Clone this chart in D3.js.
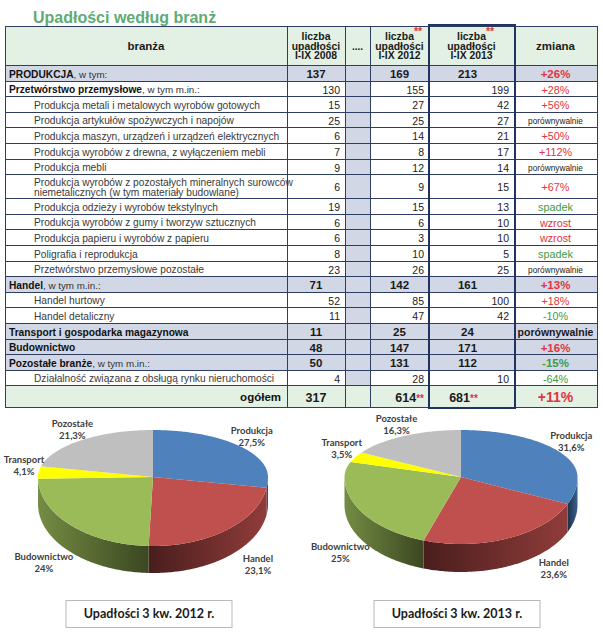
<!DOCTYPE html>
<html><head><meta charset="utf-8">
<script src="https://cdn.jsdelivr.net/npm/d3@7"></script>
<style>body{margin:0;background:#fff}svg{display:block}</style>
</head><body><svg id="c" width="603" height="640"></svg>
<script>
// ---------------- DATA ----------------
const title = "Upadłości według branż";
const headers = ["branża", "liczba\nupadłości\nI-IX 2008", "....", "liczba**\nupadłości\nI-IX 2012", "liczba**\nupadłości\nI-IX 2013", "zmiana"];
const categories = [
  "PRODUKCJA, w tym:",
  "Przetwórstwo przemysłowe, w tym m.in.:",
  "Produkcja metali i metalowych wyrobów gotowych",
  "Produkcja artykułów spożywczych i napojów",
  "Produkcja maszyn, urządzeń i urządzeń elektrycznych",
  "Produkcja wyrobów z drewna, z wyłączeniem mebli",
  "Produkcja mebli",
  "Produkcja wyrobów z pozostałych mineralnych surowców\nniemetalicznych (w tym materiały budowlane)",
  "Produkcja odzieży i wyrobów tekstylnych",
  "Produkcja wyrobów z gumy i tworzyw sztucznych",
  "Produkcja papieru i wyrobów z papieru",
  "Poligrafia i reprodukcja",
  "Przetwórstwo przemysłowe pozostałe",
  "Handel, w tym m.in.:",
  "Handel hurtowy",
  "Handel detaliczny",
  "Transport i gospodarka magazynowa",
  "Budownictwo",
  "Pozostałe branże, w tym m.in.:",
  "Działalność związana z obsługą rynku nieruchomości"
];
// 0 = main sector, 1 = sub-sector, 2 = item
const levels = [0,1,2,2,2,2,2,2,2,2,2,2,2,0,2,2,0,0,0,2];
const v2008 = [137,130,15,25,6,7,9,6,19,6,6,8,23,71,52,11,11,48,50,4];
const v2012 = [169,155,27,25,14,8,12,9,15,6,3,10,26,142,85,47,25,147,131,28];
const v2013 = [213,199,42,27,21,17,14,15,13,10,10,5,25,161,100,42,24,171,112,10];
const change = ["+26%","+28%","+56%","porównywalnie","+50%","+112%","porównywalnie","+67%","spadek","wzrost","wzrost","spadek","porównywalnie","+13%","+18%","-10%","porównywalnie","+16%","-15%","-64%"];
const totalLabel = "ogółem";
const totals = ["317", "614**", "681**"];
const totalChange = "+11%";

const pieCategories = ["Produkcja","Handel","Budownictwo","Transport","Pozostałe"];
const pie2012 = [27.5, 23.1, 24, 4.1, 21.3];
const pie2013 = [31.6, 23.6, 25, 3.5, 16.3];
const pieTitles = ["Upadłości 3 kw. 2012 r.", "Upadłości 3 kw. 2013 r."];

// ---------------- STYLE / LAYOUT ----------------
const svg = d3.select("#c");
const ARIAL = "'Liberation Sans', Arial, sans-serif";
const LINE = "#2f3d63";
const GREY_ROW = "#d2d7e5";
const GREEN_BG = "#e3f1e5";
const RED = "#e2343f", GREEN = "#3f9a45";
const colX = [5, 287, 345, 370, 429, 514, 597];

svg.append("text").attr("x", 33).attr("y", 23).text(title)
  .attr("font-family", ARIAL).attr("font-weight", "bold").attr("font-size", 16)
  .attr("fill", "#60ab74");

const tableTop = 26, headerBottom = 65;
let yy = headerBottom;
const rowsY = categories.map(c => {
  const h = c.includes("\n") ? 24 : 15.6;
  const r = [Math.round(yy), Math.round(yy + h)];
  yy += h; return r;
});
const totalY = [Math.round(yy), Math.round(yy + 22)];
const tableBottom = totalY[1];

const tbl = svg.append("g");
tbl.append("rect").attr("x", colX[0]).attr("y", tableTop).attr("width", colX[6]-colX[0]).attr("height", headerBottom - tableTop).attr("fill", GREEN_BG);
categories.forEach((c, i) => {
  const [y0, y1] = rowsY[i];
  if (levels[i] === 0) tbl.append("rect").attr("x", colX[0]).attr("y", y0).attr("width", colX[6]-colX[0]).attr("height", y1-y0).attr("fill", GREY_ROW);
  tbl.append("rect").attr("x", colX[2]).attr("y", y0).attr("width", colX[3]-colX[2]).attr("height", y1-y0).attr("fill", GREY_ROW);
});
tbl.append("rect").attr("x", colX[0]).attr("y", totalY[0]).attr("width", colX[6]-colX[0]).attr("height", totalY[1]-totalY[0]).attr("fill", GREEN_BG);

const hLines = [tableTop, headerBottom].concat(rowsY.map(r => r[1])).concat([tableBottom]);
hLines.forEach(y => tbl.append("line").attr("x1", colX[0]).attr("x2", colX[6]).attr("y1", y + 0.5).attr("y2", y + 0.5).attr("stroke", LINE).attr("stroke-width", 1));
colX.forEach(x => tbl.append("line").attr("x1", x + 0.5).attr("x2", x + 0.5).attr("y1", tableTop).attr("y2", tableBottom + 1).attr("stroke", LINE).attr("stroke-width", 1));
tbl.append("rect").attr("x", colX[4]).attr("y", tableTop - 1).attr("width", colX[5]-colX[4] + 1).attr("height", tableBottom - tableTop + 2)
  .attr("fill", "none").attr("stroke", "#1f3461").attr("stroke-width", 2);

function starText(sel, str) {
  const parts = str.split("**");
  parts.forEach((p, i) => {
    if (p) sel.append("tspan").text(p);
    if (i < parts.length - 1) sel.append("tspan").text("**").attr("fill", RED).attr("font-size", 10);
  });
}

// header
headers.forEach((h, j) => {
  const cx = (colX[j] + colX[j+1]) / 2;
  const lines = h.split("\n");
  if (lines.length === 1) {
    tbl.append("text").attr("x", cx).attr("y", (tableTop + headerBottom)/2 + 4).attr("text-anchor", "middle")
      .attr("font-family", ARIAL).attr("font-weight", "bold").attr("font-size", j === 2 ? 10 : 11.5).attr("fill", "#1a1a1a").text(h);
  } else {
    lines.forEach((ln, k) => {
      const t = tbl.append("text").attr("x", cx).attr("y", 40 + k * 9.6).attr("text-anchor", "middle")
        .attr("font-family", ARIAL).attr("font-weight", "bold").attr("font-size", 10.4).attr("fill", "#1a1a1a");
      if (ln.includes("**")) {
        const base = ln.replace("**", "");
        t.text(base);
        const w = t.node().getComputedTextLength();
        tbl.append("text").attr("x", cx + w/2).attr("y", 35 + k * 9.6).attr("font-family", ARIAL).attr("font-weight", "bold")
          .attr("font-size", 10.5).attr("fill", RED).text("**");
      } else t.text(ln);
    });
  }
});

function changeColor(s) {
  if (s.startsWith("+") || s === "wzrost") return RED;
  if (s.startsWith("-") || s === "spadek") return GREEN;
  return "#1a1a1a";
}

categories.forEach((c, i) => {
  const [y0, y1] = rowsY[i];
  const mid = (y0 + y1) / 2 + 1;
  const lv = levels[i];
  const lines = c.split("\n");
  if (lv <= 1) {
    const k = c.indexOf(",");
    const t = tbl.append("text").attr("x", 9).attr("y", mid + 3.5).attr("font-family", ARIAL).attr("font-size", 10.2).attr("fill", "#111");
    t.append("tspan").attr("font-weight", "bold").text(k >= 0 ? c.slice(0, k) : c);
    if (k >= 0) t.append("tspan").attr("fill", "#333").attr("font-size", 9.8).text(c.slice(k));
  } else {
    lines.forEach((ln, k) => {
      const off = lines.length === 1 ? 0 : (k === 0 ? -5 : 5.5);
      tbl.append("text").attr("x", 34).attr("y", mid + 3.5 + off).attr("font-family", ARIAL).attr("font-size", 10.2)
        .attr("fill", "#3a3a3a").text(ln);
    });
  }
  [v2008[i], v2012[i], v2013[i]].forEach((v, j) => {
    const col = [1, 3, 4][j];
    const t = tbl.append("text").attr("font-family", ARIAL).attr("y", mid + 4).text(v);
    if (lv === 0) t.attr("x", (colX[col] + colX[col+1]) / 2 + (j === 2 ? -4 : 0)).attr("text-anchor", "middle").attr("font-weight", "bold").attr("font-size", 11.5).attr("fill", "#1a1a1a");
    else t.attr("x", colX[col+1] - 5).attr("text-anchor", "end").attr("font-size", 10.5).attr("fill", "#222");
  });
  const ch = change[i];
  const isCmp = ch === "porównywalnie";
  tbl.append("text").attr("x", (colX[5] + colX[6]) / 2).attr("y", mid + (isCmp && lv !== 0 ? 3 : 4)).attr("text-anchor", "middle")
    .attr("font-family", ARIAL)
    .attr("font-weight", lv === 0 ? "bold" : "normal")
    .attr("font-size", lv === 0 ? (isCmp ? 10.5 : 11.5) : (isCmp ? 8.3 : 10.8))
    .attr("fill", changeColor(ch)).text(ch);
});

{
  const mid = (totalY[0] + totalY[1]) / 2 + 1;
  tbl.append("text").attr("x", colX[1] - 6).attr("y", mid + 4).attr("text-anchor", "end").attr("font-family", ARIAL)
    .attr("font-weight", "bold").attr("font-size", 11.5).attr("fill", "#111").text(totalLabel);
  totals.forEach((v, j) => {
    const col = [1, 3, 4][j];
    const t = tbl.append("text").attr("y", mid + 4.5).attr("font-family", ARIAL).attr("font-weight", "bold").attr("font-size", 12.5).attr("fill", "#1a1a1a");
    if (j === 1) t.attr("x", colX[col+1] - 5).attr("text-anchor", "end");
    else t.attr("x", (colX[col] + colX[col+1]) / 2 + (j === 2 ? -8 : 0)).attr("text-anchor", "middle");
    starText(t, v);
  });
  tbl.append("text").attr("x", (colX[5] + colX[6]) / 2).attr("y", mid + 5).attr("text-anchor", "middle").attr("font-family", ARIAL)
    .attr("font-weight", "bold").attr("font-size", 14).attr("fill", RED).text(totalChange);
}

// ---------------- PIES ----------------
const pieColors = d3.scaleOrdinal().domain(pieCategories).range(["#4f81bd", "#c0504d", "#9bbb59", "#ffff00", "#bfbfbf"]);
const defs = svg.append("defs");
const LABEL_FONT = "Lato, 'Open Sans', sans-serif";

function drawPie(values, cx, cy, rx, ryB, ryF, depth, titleText, pid) {
  const g = svg.append("g");
  const arcs = d3.pie().sort(null).value(d => d)(values);
  const P = (t, k = 1) => {
    const c = Math.cos(t);
    return [cx + rx * k * Math.sin(t), cy - (c > 0 ? ryB : ryF) * k * c];
  };
  const samples = (a0, a1) => {
    const n = Math.max(2, Math.ceil((a1 - a0) / 0.015));
    return d3.range(n + 1).map(j => P(a0 + (a1 - a0) * j / n));
  };
  arcs.forEach((a, i) => {
    const s = Math.max(a.startAngle, Math.PI / 2), e = Math.min(a.endAngle, 3 * Math.PI / 2);
    if (e <= s) return;
    const base = pieColors(pieCategories[i]);
    const midSin = Math.sin((s + e) / 2);
    const gid = `g${pid}_${i}`;
    const grad = defs.append("linearGradient").attr("id", gid).attr("x1", midSin > 0 ? 1 : 0).attr("x2", midSin > 0 ? 0 : 1).attr("y1", 0).attr("y2", 0);
    grad.append("stop").attr("offset", 0).attr("stop-color", d3.interpolateRgb(base, "#000")(0.25));
    grad.append("stop").attr("offset", 1).attr("stop-color", d3.interpolateRgb(base, "#000")(0.62));
    const top = samples(s, e);
    const bottom = top.map(p => [p[0], p[1] + depth]).reverse();
    g.append("path").attr("d", d3.line()(top.concat(bottom)) + "Z").attr("fill", `url(#${gid})`);
  });
  arcs.forEach((a, i) => {
    const pts = [[cx, cy]].concat(samples(a.startAngle, a.endAngle));
    g.append("path").attr("d", d3.line()(pts) + "Z").attr("fill", pieColors(pieCategories[i]));
  });
  arcs.forEach((a, i) => {
    const m = (a.startAngle + a.endAngle) / 2;
    const s = Math.sin(m), c = Math.cos(m);
    let x, y;
    if (c >= 0) {
      x = cx + rx * 1.13 * s;
      y = cy - ryB * 1.15 * c - 6;
    } else {
      const off = 60 * (1 - Math.abs(s)) + 10;
      x = cx + rx * s + (s > 0 ? off : -off);
      y = cy + ryF * (0.5 + 0.5 * Math.abs(c)) + depth - 1;
    }
    x = Math.max(x, 24);
    const t = g.append("text").attr("text-anchor", "middle").attr("font-family", LABEL_FONT).attr("font-weight", "bold")
      .attr("font-size", 9.5).attr("fill", "#404040");
    t.append("tspan").attr("x", x).attr("y", y - 2).text(pieCategories[i]);
    t.append("tspan").attr("x", x).attr("y", y + 10).text(String(values[i]).replace(".", ",") + "%");
  });
  const bw = 166, bh = 27, by = 600;
  g.append("rect").attr("x", cx - bw / 2 - 4).attr("y", by + 0.5).attr("width", bw).attr("height", bh).attr("fill", "#fff").attr("stroke", "#b8b8b8");
  g.append("text").attr("x", cx - 4).attr("y", by + 18).attr("text-anchor", "middle").attr("font-family", LABEL_FONT)
    .attr("font-weight", "bold").attr("font-size", 12.5).attr("fill", "#1a1a1a").text(titleText);
}

drawPie(pie2012, 153, 477, 115, 47, 69, 27, pieTitles[0], 0);
drawPie(pie2013, 461, 477, 116.5, 47, 67, 28, pieTitles[1], 1);
</script>
</body></html>
